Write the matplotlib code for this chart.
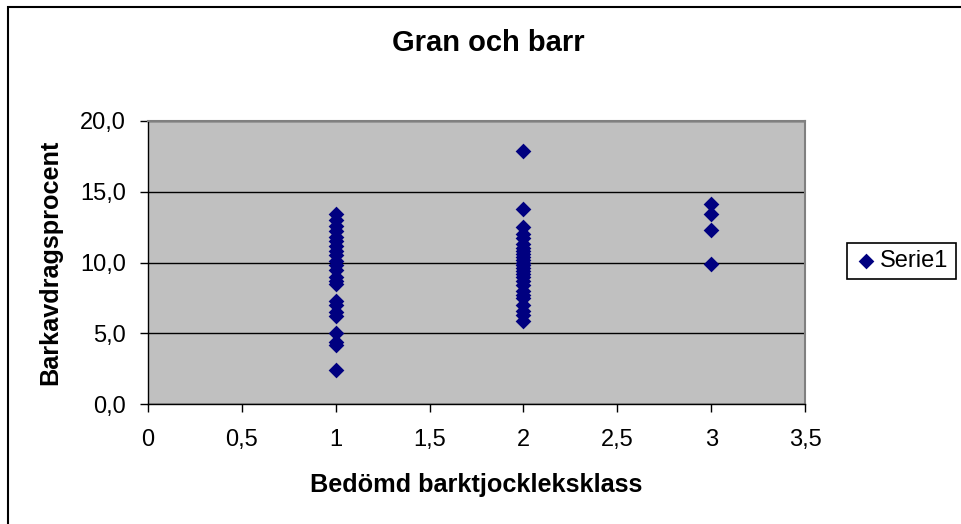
import numpy as np
import matplotlib as mpl
mpl.use('agg')

import matplotlib.pyplot as plt
from matplotlib.patches import Rectangle
from matplotlib.ticker import FuncFormatter

# Barkavdragsprocent per bedömd barktjockleksklass
klass1 = [13.4, 13.0, 12.6, 12.2, 11.8, 11.5, 11.2, 10.8, 10.5, 10.1, 9.8, 9.5, 9.0,
	8.7, 8.5, 7.3, 7.0, 6.5, 6.2, 5.0, 4.4, 4.2, 2.4]
klass2 = [17.9, 13.8, 12.5, 12.0, 11.7, 11.3, 11.0, 10.8, 10.6, 10.4, 10.2, 10.0, 9.8,
	9.6, 9.4, 9.2, 9.0, 8.7, 8.4, 8.0, 7.7, 7.5, 7.0, 6.6, 6.3, 5.9]
klass3 = [14.1, 13.4, 12.3, 9.9]

klasser = [1, 2, 3]
xticks = [0, 0.5, 1, 1.5, 2, 2.5, 3, 3.5]
yticks = [0, 5, 10, 15, 20]

plt.rcParams['font.family'] = ['Liberation Sans', 'DejaVu Sans']

def main():
	x = []
	y = []
	for k, vals in zip(klasser, [klass1, klass2, klass3]):
		x += [k] * len(vals)
		y += vals

	W, H = 962, 524
	fig = plt.figure(figsize=(W / 100, H / 100), dpi=100)
	fig.patches.append(Rectangle((8 / W, -0.1), 1.2, 1 - 7 / H + 0.1, transform=fig.transFigure,
		facecolor='none', edgecolor='black', linewidth=1.5))

	ax = fig.add_axes([148 / W, 1 - 404 / H, (805 - 148) / W, (404 - 121) / H])
	ax.set_facecolor('#C0C0C0')
	ax.scatter(x, y, marker='D', s=64, color='#000080', linewidths=0, zorder=3, label='Serie1')

	ax.set_xlim(0, 3.5)
	ax.set_ylim(0, 20)
	ax.set_xticks(xticks)
	ax.set_yticks(yticks)
	ax.xaxis.set_major_formatter(FuncFormatter(lambda v, p: ('%g' % v).replace('.', ',')))
	ax.yaxis.set_major_formatter(FuncFormatter(lambda v, p: ('%.1f' % v).replace('.', ',')))
	ax.tick_params(axis='both', direction='out', length=6, width=1, labelsize=17, colors='black')
	ax.tick_params(axis='x', pad=12)
	ax.tick_params(axis='y', pad=10)
	ax.grid(axis='y', color='black', linewidth=1)
	ax.set_axisbelow(True)

	for s in ['top', 'right']:
		ax.spines[s].set_color('#808080')
		ax.spines[s].set_linewidth(1.5)
	for s in ['left', 'bottom']:
		ax.spines[s].set_color('black')
		ax.spines[s].set_linewidth(1)

	fig.text(0.5 * (390 + 587) / W, 1 - 43 / H, 'Gran och barr', ha='center', va='center',
		fontsize=21, fontweight='bold')
	fig.text((148 + 805) / 2 / W, 1 - 485 / H, 'Bedömd barktjockleksklass', ha='center', va='center',
		fontsize=18.2, fontweight='bold')
	fig.text(50 / W, 1 - 262 / H, 'Barkavdragsprocent', ha='center', va='center',
		rotation=90, fontsize=18.2, fontweight='bold')

	leg = fig.legend(loc='upper left', bbox_to_anchor=(847 / W, 1 - 243 / H), borderaxespad=0,
		fancybox=False, edgecolor='black', framealpha=1, fontsize=17, handletextpad=0.1,
		handlelength=1.0, borderpad=0.3, scatterpoints=1)
	leg.get_frame().set_linewidth(1.2)

	fig.savefig('out.png', dpi=100)

if __name__ == '__main__':
	main()
